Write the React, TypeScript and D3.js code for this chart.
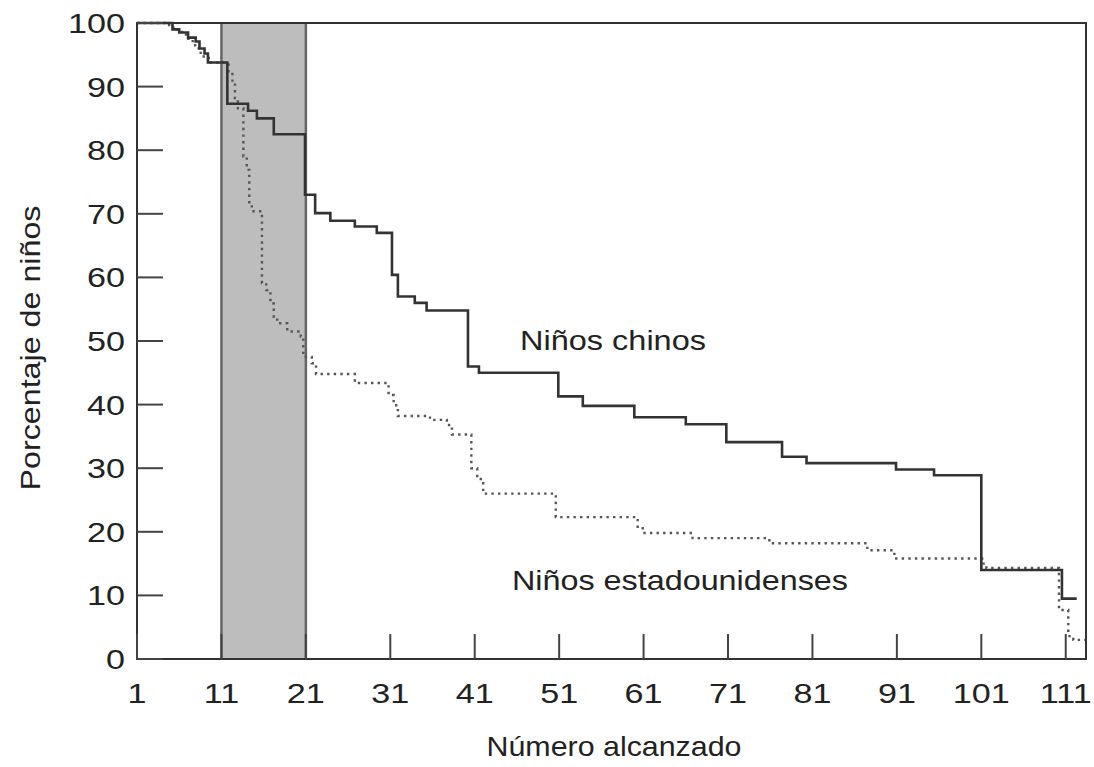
import { useEffect, useRef } from 'react';
import * as d3 from 'd3';

// Step points (number reached, % of children still counting)
const CHINESE_X = [1, 5.2, 6.0, 7.05, 7.95, 8.4, 9.0, 9.4, 11.7, 14.15, 15.2, 17.2, 20.9, 22.1, 23.9, 26.8, 29.4, 31.2, 31.9, 33.9, 35.3, 40.2, 41.5, 50.9, 53.8, 59.9, 66.0, 70.8, 77.4, 80.3, 90.9, 95.4, 101.0, 110.55, 112.3];
const CHINESE_Y = [100, 99.0, 98.5, 97.7, 97.1, 96.0, 95.2, 93.8, 87.3, 86.2, 85.0, 82.5, 73.0, 70.1, 68.9, 68.0, 67.0, 60.4, 57.0, 56.0, 54.8, 46.0, 45.0, 41.3, 39.8, 38.0, 36.9, 34.1, 31.8, 30.8, 29.8, 28.9, 14.0, 9.5, 9.5];

const US_X = [1, 4.8, 5.8, 6.8, 7.6, 8.3, 8.9, 9.5, 11.85, 12.3, 12.6, 12.95, 13.6, 14.0, 14.3, 14.6, 15.8, 16.3, 16.8, 17.2, 17.6, 18.8, 20.4, 20.7, 21.7, 22.2, 26.8, 30.8, 31.4, 31.9, 35.7, 37.7, 38.3, 40.6, 41.3, 42.0, 50.6, 60.3, 60.9, 66.8, 75.9, 87.5, 90.7, 101.1, 101.6, 110.2, 111.3, 111.9, 113.3];
const US_Y = [100, 99.3, 98.6, 97.5, 96.5, 95.3, 94.5, 93.8, 92.4, 90.5, 88.2, 86.6, 79.0, 76.9, 71.6, 70.4, 59.1, 58.0, 55.9, 53.8, 52.8, 51.5, 50.7, 47.5, 46.5, 44.8, 43.4, 41.5, 39.9, 38.2, 37.6, 36.8, 35.3, 30.0, 28.3, 26.0, 22.3, 20.8, 19.8, 19.0, 18.2, 17.1, 15.8, 15.0, 14.3, 7.7, 3.6, 3.0, 3.0];

const X_TICKS = [1, 11, 21, 31, 41, 51, 61, 71, 81, 91, 101, 111];
const Y_TICKS = [0, 10, 20, 30, 40, 50, 60, 70, 80, 90, 100];
const SHADE = [11, 21];

const FONT = '"Liberation Sans", Arial, Helvetica, sans-serif';

export default function App() {
  const svgRef = useRef<SVGSVGElement>(null);

  useEffect(() => {
    if (!svgRef.current) return;
    const width = 1094;
    const height = 767;
    const left = 137, right = 1086, top = 23, bottom = 659;

    const svg = d3.select(svgRef.current);
    svg.selectAll('*').remove();
    svg.attr('width', width).attr('height', height);

    const x = d3.scaleLinear().domain([1, 113.4]).range([left, right]);
    const y = d3.scaleLinear().domain([0, 100]).range([bottom, top]);

    svg.append('rect').attr('width', width).attr('height', height).attr('fill', '#fff');

    // shaded band 11-21
    svg.append('rect')
      .attr('x', x(SHADE[0])).attr('y', y(100))
      .attr('width', x(SHADE[1]) - x(SHADE[0]))
      .attr('height', y(0) - y(100))
      .attr('fill', '#bdbdbd');
    SHADE.forEach((v) => {
      svg.append('line')
        .attr('x1', x(v)).attr('x2', x(v))
        .attr('y1', y(0)).attr('y2', y(100))
        .attr('stroke', '#666').attr('stroke-width', 2.5);
    });

    const line = d3.line<[number, number]>()
      .x((d) => x(d[0]))
      .y((d) => y(d[1]))
      .curve(d3.curveStepAfter);

    const usPts = US_X.map((v, i) => [v, US_Y[i]] as [number, number]);
    const cnPts = CHINESE_X.map((v, i) => [v, CHINESE_Y[i]] as [number, number]);

    svg.append('path')
      .attr('d', line(usPts))
      .attr('fill', 'none')
      .attr('stroke', '#555')
      .attr('stroke-width', 2.4)
      .attr('stroke-dasharray', '2.4,4.2');

    svg.append('path')
      .attr('d', line(cnPts))
      .attr('fill', 'none')
      .attr('stroke', '#333')
      .attr('stroke-width', 2.6)
      .attr('stroke-linejoin', 'miter');

    // frame
    svg.append('rect')
      .attr('x', left).attr('y', top)
      .attr('width', right - left).attr('height', bottom - top)
      .attr('fill', 'none').attr('stroke', '#333').attr('stroke-width', 2);

    // ticks (inside)
    Y_TICKS.forEach((t) => {
      svg.append('line')
        .attr('x1', left).attr('x2', left + 26)
        .attr('y1', y(t)).attr('y2', y(t))
        .attr('stroke', '#444').attr('stroke-width', 2);
      svg.append('g')
        .attr('transform', `translate(${left - 12},${y(t)}) scale(1.22,1)`)
        .append('text')
        .attr('text-anchor', 'end')
        .attr('dy', '0.36em')
        .attr('font-family', FONT)
        .attr('font-size', 28)
        .attr('fill', '#222')
        .text(t);
    });
    X_TICKS.forEach((t) => {
      svg.append('line')
        .attr('x1', x(t)).attr('x2', x(t))
        .attr('y1', bottom).attr('y2', bottom - 25)
        .attr('stroke', '#444').attr('stroke-width', 2);
      svg.append('g')
        .attr('transform', `translate(${x(t)},${bottom + 44}) scale(1.22,1)`)
        .append('text')
        .attr('text-anchor', 'middle')
        .attr('font-family', FONT)
        .attr('font-size', 28)
        .attr('fill', '#222')
        .text(t);
    });

    // axis titles
    svg.append('text')
      .attr('x', 614).attr('y', 756)
      .attr('text-anchor', 'middle')
      .attr('font-family', FONT).attr('font-size', 28).attr('fill', '#222')
      .attr('textLength', 255).attr('lengthAdjust', 'spacingAndGlyphs')
      .text('Número alcanzado');

    svg.append('text')
      .attr('transform', `translate(40,${348}) rotate(-90)`)
      .attr('text-anchor', 'middle')
      .attr('font-family', FONT).attr('font-size', 28).attr('fill', '#222')
      .attr('textLength', 285).attr('lengthAdjust', 'spacingAndGlyphs')
      .text('Porcentaje de niños');

    // series labels
    svg.append('text')
      .attr('x', 520).attr('y', 350)
      .attr('font-family', FONT).attr('font-size', 28).attr('fill', '#222')
      .attr('textLength', 186).attr('lengthAdjust', 'spacingAndGlyphs')
      .text('Niños chinos');

    svg.append('text')
      .attr('x', 512).attr('y', 590)
      .attr('font-family', FONT).attr('font-size', 28).attr('fill', '#222')
      .attr('textLength', 336).attr('lengthAdjust', 'spacingAndGlyphs')
      .text('Niños estadounidenses');
  }, []);

  return <svg ref={svgRef} style={{ position: 'absolute', left: 0, top: 0, display: 'block' }} />;
}
